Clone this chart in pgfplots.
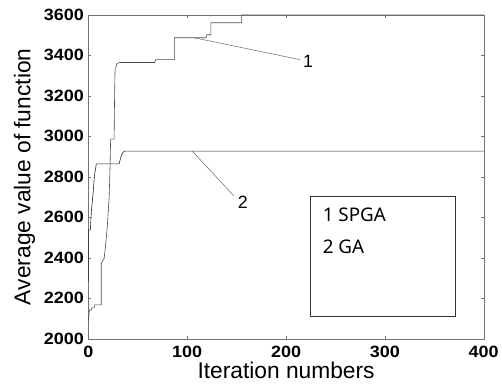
\documentclass[border=0pt]{standalone}
\usepackage{fontspec}
\setmainfont{Liberation Sans}
\newfontfamily\legfont{Noto Sans}
\newfontfamily\tickfont[FakeStretch=1.1]{Liberation Sans}
\usepackage{pgfplots}
\pgfplotsset{compat=1.18}
\begin{document}
\begin{tikzpicture}
\begin{axis}[
 scale only axis, width=398bp, height=326bp,
 xmin=0,xmax=400,ymin=2000,ymax=3600,
 xtick={0,100,...,400}, ytick={2000,2200,...,3600},
 tick align=inside, major tick length=3bp,
 ticklabel style={font=\tickfont\fontsize{16.5}{16.5}\selectfont\bfseries},
 xticklabel style={yshift=-4bp},
 yticklabel style={xshift=-1bp},
 /pgf/number format/assume math mode=true,
 /pgf/number format/1000 sep={},
 xlabel={Iteration numbers}, ylabel={Average value of function},
 label style={font=\fontsize{23}{23}\selectfont},
 xlabel style={yshift=3bp},
 ylabel style={yshift=2bp},
 axis line style={black!55},
 tick style={black!55},
 clip=false,
]
\addplot[black!70, line width=0.6bp] coordinates {
(0,2088)(1,2142)(3,2142)(3,2152)(6,2152)(6,2167)(13,2167)(13,2373)(16,2397)(19,2545)(21,2700)(22,2864)(22.5,2986)(26,2986)(26.5,3200)(27,3330)(29,3360)(32,3365)(67,3365)(68,3379)(87,3379)(87,3487)(119,3487)(120,3502)(124,3502)(124,3561)(155,3561)(155,3600)(400,3600)
};
\addplot[black!85, line width=0.6bp] coordinates {
(0,2285)(0,2535)(2,2540)(3,2628)(5,2731)(6,2800)(8,2864)(31,2864)(33,2900)(35,2922)(37,2927)(400,2927)
};
\draw[black!60, line width=0.5bp] (axis cs:107,3487) -- (axis cs:214,3379);
\node[font=\fontsize{18}{18}\selectfont, anchor=west, inner sep=1bp] at (axis cs:216,3372) {1};
\draw[black!60, line width=0.5bp] (axis cs:105,2927) -- (axis cs:147,2707);
\node[font=\fontsize{18}{18}\selectfont, anchor=west, inner sep=1bp] at (axis cs:150,2672) {2};
\draw[black!80, line width=0.5bp] (axis cs:224,2113) rectangle (axis cs:371,2702);
\node[font=\legfont\fontsize{19}{19}\selectfont, anchor=west, inner sep=0pt] at (axis cs:237,2610) {1 SPGA};
\node[font=\legfont\fontsize{19}{19}\selectfont, anchor=west, inner sep=0pt] at (axis cs:237,2452) {2 GA};
\end{axis}
\path[use as bounding box] (-89bp,-53bp) rectangle (413bp,341bp);
\end{tikzpicture}
\end{document}
